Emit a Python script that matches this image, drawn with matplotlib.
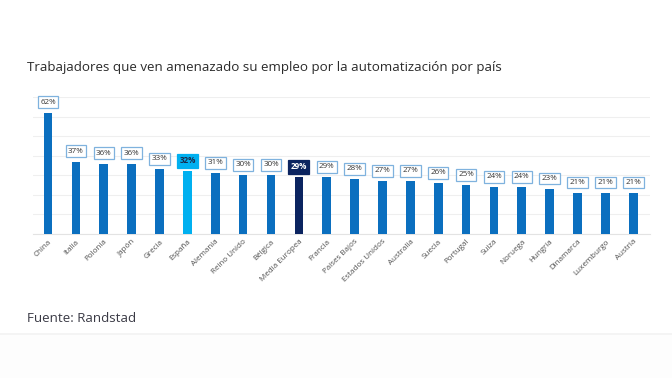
import matplotlib.pyplot as plt
from matplotlib.patches import Rectangle

# datos
paises = ['China', 'Italia', 'Polonia', 'Japón', 'Grecia', 'España', 'Alemania',
          'Reino Unido', 'Bélgica', 'Media Europea', 'Francia', 'Países Bajos',
          'Estados Unidos', 'Australia', 'Suecia', 'Portugal', 'Suiza', 'Noruega',
          'Hungría', 'Dinamarca', 'Luxemburgo', 'Austria']
valores = [62, 37, 36, 36, 33, 32, 31, 30, 30, 29, 29, 28, 27, 27, 26, 25, 24, 24,
           23, 21, 21, 21]

azul = '#0B6FBF'
cian = '#00B0F0'
marino = '#0B2460'

colores = []
for p in paises:
    if p == 'España':
        colores.append(cian)
    elif p == 'Media Europea':
        colores.append(marino)
    else:
        colores.append(azul)

plt.rcParams['font.family'] = ['Open Sans', 'DejaVu Sans']

fig = plt.figure(figsize=(6.72, 3.78), dpi=100)
fig.patch.set_facecolor('white')
# franja inferior casi blanca
fig.add_artist(Rectangle((0, 0), 1, 1 - 334 / 378, transform=fig.transFigure,
                         facecolor='#FDFDFD', edgecolor='none', zorder=0))
fig.add_artist(Rectangle((0, 1 - 335 / 378), 1, 2 / 378, transform=fig.transFigure,
                         facecolor='#F4F4F4', edgecolor='none', zorder=0))

ax = fig.add_axes([33 / 672, 1 - 234 / 378, 617 / 672, 137 / 378])
x = list(range(len(paises)))
ax.bar(x, valores, width=0.31, color=colores, zorder=3)
ax.set_xlim(-0.54, 21.6)
ax.set_ylim(0, 70)
ax.set_yticks(range(0, 71, 10))
ax.yaxis.grid(True, color='#EFEFEF', linewidth=0.8, zorder=0)
ax.tick_params(axis='y', left=False, labelleft=False)
ax.tick_params(axis='x', length=0, pad=3)
for s in ['top', 'right', 'left']:
    ax.spines[s].set_visible(False)
ax.spines['bottom'].set_color('#E3E3E3')
ax.set_xticks(x)
ax.set_xticklabels(paises, rotation=45, ha='right', rotation_mode='anchor',
                   fontsize=5.8, color='#505050')

for i, v in enumerate(valores):
    if paises[i] == 'España':
        fc, tc, ec = cian, '#1A2A4A', cian
    elif paises[i] == 'Media Europea':
        fc, tc, ec = marino, 'white', marino
    else:
        fc, tc, ec = 'white', '#333333', '#7FB2DE'
    ax.annotate(f'{v}%', (i, v), xytext=(0, 7.5), textcoords='offset points',
                ha='center', va='center', fontsize=5.8, color=tc,
                fontweight='bold' if fc != 'white' else 'normal',
                bbox=dict(boxstyle='square,pad=0.3', fc=fc, ec=ec, lw=0.9),
                annotation_clip=False, zorder=4)

fig.text(27 / 672, 1 - 68 / 378, 'Trabajadores que ven amenazado su empleo por la automatización por país',
         fontsize=9.6, color='#2B2B2B', va='center', ha='left')
fig.text(27 / 672, 1 - 318 / 378, 'Fuente: Randstad', fontsize=9.6, color='#3A3A45',
         va='center', ha='left')

plt.savefig('out.png', dpi=100, facecolor=fig.get_facecolor())
plt.close()
